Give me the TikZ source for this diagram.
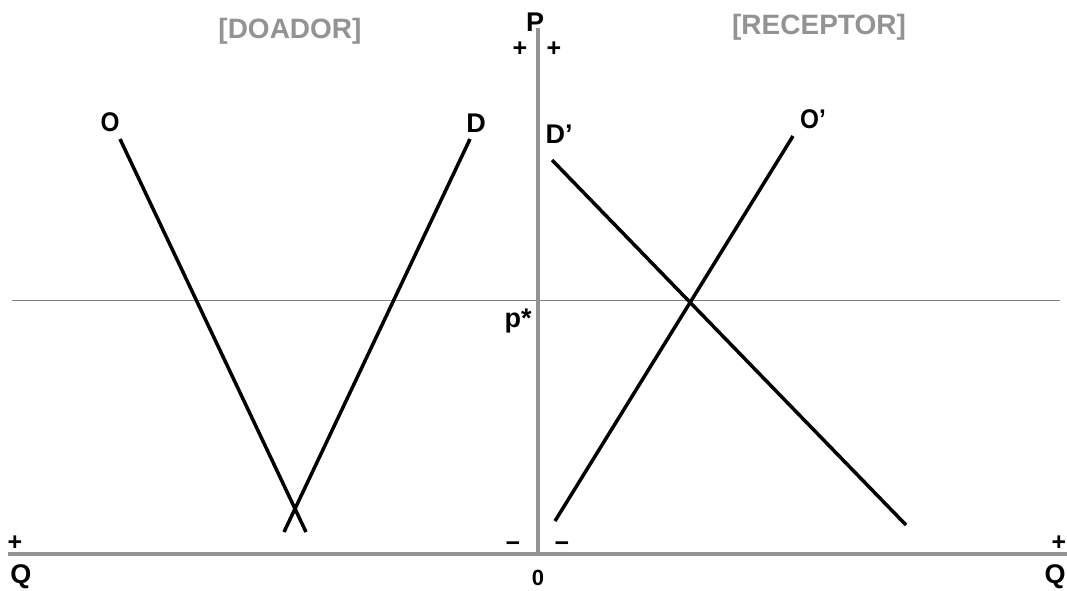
\documentclass[tikz,border=0pt]{standalone}
\usepackage{fontspec}
\setmainfont{Liberation Sans}
\begin{document}
\begin{tikzpicture}[x=1pt,y=-1pt,
  axis/.style={draw=gray!85!white,line width=4.5pt},
  curve/.style={draw=black,line width=3.5pt},
  lbl/.style={font=\fontsize{27}{27}\selectfont\bfseries,inner sep=0pt},
  sgn/.style={font=\fontsize{25}{25}\selectfont\bfseries,inner sep=0pt},
  ttl/.style={font=\fontsize{28}{28}\selectfont\bfseries,text=gray!85!white,inner sep=0pt}]
\useasboundingbox (0,0) rectangle (1067,590);
% axes
\coordinate (qa) at (8,554);
\coordinate (qb) at (1067,554);
\coordinate (pa) at (538,28);
\coordinate (pb) at (538,556);
\coordinate (ha) at (12,300);
\coordinate (hb) at (1060,300);
\draw[gray,line width=1pt] (ha) -- (hb);
\draw[axis] (qa) -- (qb);
\draw[axis] (pa) -- (pb);
% curves
\coordinate (o1) at (120,139);
\coordinate (o2) at (306,532);
\coordinate (d1) at (470,139);
\coordinate (d2) at (284,532);
\coordinate (dp1) at (552,160);
\coordinate (dp2) at (906,525);
\coordinate (op1) at (555,521);
\coordinate (op2) at (793,136);
\draw[curve] (o1) -- (o2);
\draw[curve] (d1) -- (d2);
\draw[curve] (dp1) -- (dp2);
\draw[curve] (op1) -- (op2);
% labels
\node[ttl] (tdo) at (290,31) {[DOADOR]};
\node[ttl] (tre) at (819,27) {[RECEPTOR]};
\node[lbl,xscale=0.9] (lo) at (110,122) {O};
\node[lbl] (ld) at (476,123) {D};
\node[lbl] (ldp) at (559,134) {D'};
\node[lbl,xscale=0.9] (lop) at (813,119) {O'};
\node[lbl] (lp) at (535,22) {P};
\node[sgn] (pl1) at (520,49) {+};
\node[sgn] (pl2) at (554,49) {+};
\node[lbl] (ps) at (518,321) {p*};
\node[sgn] (mi1) at (513,547) {\textminus};
\node[sgn] (mi2) at (562,547) {\textminus};
\node[font=\fontsize{22}{22}\selectfont\bfseries,inner sep=0pt] (zero) at (538,578) {0};
\node[sgn] (pl3) at (15,543) {+};
\node[lbl] (q1) at (21,577) {Q};
\node[sgn] (pl4) at (1059,543) {+};
\node[lbl] (q2) at (1055,577) {Q};
\end{tikzpicture}
\end{document}
